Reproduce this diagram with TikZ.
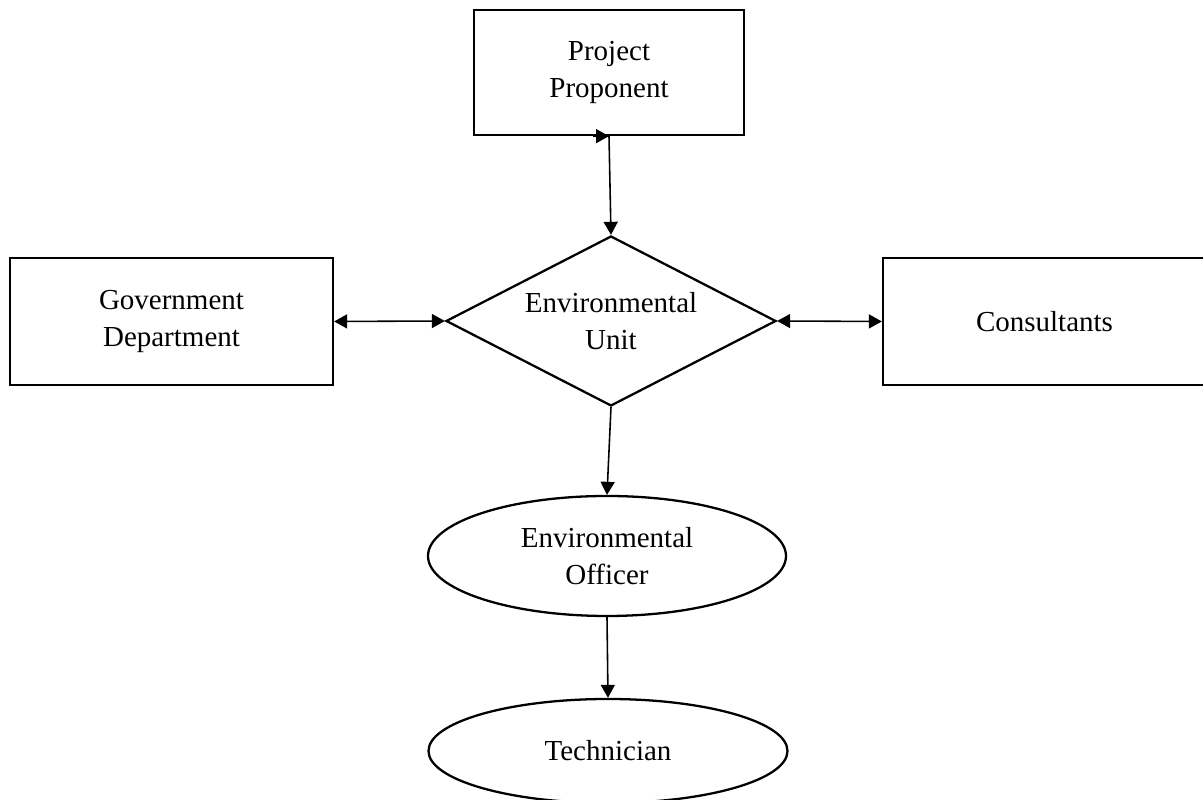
\documentclass[tikz,border=0pt]{standalone}
\usepackage{fontspec}
\setmainfont{Liberation Serif}
\usetikzlibrary{shapes.geometric,arrows.meta}
\tikzset{
  box/.style={draw,line width=1.3pt,align=center,inner sep=0pt},
  unit/.style={draw,diamond,aspect=1.94,line width=1.3pt,align=center,inner sep=0pt},
  officer/.style={draw,ellipse,line width=1.3pt,align=center,inner sep=0pt},
  arr/.style={line width=0.9pt,-{Triangle[length=0.26cm,width=0.28cm]}},
  darr/.style={line width=0.9pt,{Triangle[length=0.26cm,width=0.28cm]}-{Triangle[length=0.26cm,width=0.28cm]}}
}
\begin{document}
\begin{tikzpicture}[font=\fontsize{16.5}{21.5}\selectfont]
\useasboundingbox (0,0) rectangle (24.06,16);
\clip (0,0) rectangle (24.06,16);
\node[box,minimum width=5.4cm,minimum height=2.5cm] (pp) at (12.18,14.55) {Project\\Proponent};
\node[box,minimum width=6.46cm,minimum height=2.54cm] (gov) at (3.43,9.57) {Government\\Department};
\node[box,minimum width=6.46cm,minimum height=2.54cm] (cons) at (20.89,9.57) {Consultants};
\node[unit,minimum width=6.6cm,minimum height=3.4cm] (eu) at (12.22,9.58) {Environmental\\Unit};
\node[officer,minimum width=7.16cm,minimum height=2.4cm] (eo) at (12.14,4.88) {Environmental\\Officer};
\node[officer,minimum width=7.18cm,minimum height=2.08cm] (tech) at (12.16,0.98) {Technician};
% links
\coordinate (tail) at ([xshift=-0.32cm]pp.south);
\draw[arr] (tail) -- (pp.south);
\draw[arr] (pp.south) -- (eu.north);
\draw[darr] (gov.east) -- (eu.west);
\draw[darr] (eu.east) -- (cons.west);
\draw[arr] (eu.south) -- (eo.north);
\draw[arr] (eo.south) -- (tech.north);
\end{tikzpicture}
\end{document}
